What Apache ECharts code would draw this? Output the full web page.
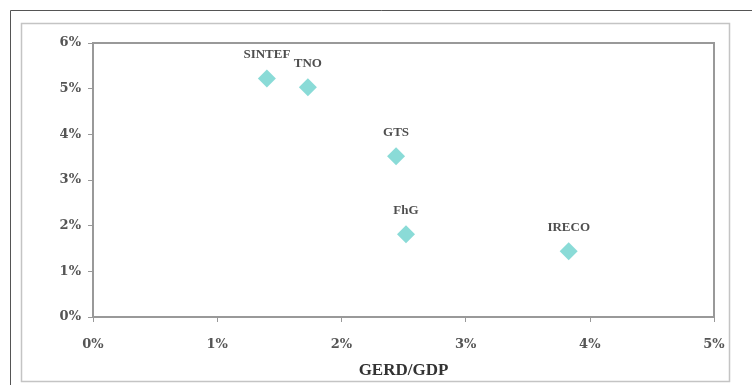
<!DOCTYPE html>
<html><head><meta charset="utf-8">
<script src="https://cdn.jsdelivr.net/npm/echarts@6/dist/echarts.min.js"></script>
<style>html,body{margin:0;padding:0;background:#fff}#c{width:752px;height:385px}</style>
</head><body><div id="c"></div>
<script>
const names = ['SINTEF','TNO','GTS','FhG','IRECO'];
const gerdGdp = [1.40, 1.73, 2.44, 2.52, 3.83];
const yValues = [5.22, 5.03, 3.52, 1.81, 1.44];
const xTicks = [0,1,2,3,4,5];
const yTicks = [0,1,2,3,4,5,6];

const font = 'Liberation Serif';
const tickFont = 'DejaVu Serif';
const chart = echarts.init(document.getElementById('c'), null, {renderer:'canvas'});
chart.setOption({
  animation:false,
  backgroundColor:'#fff',
  graphic:[
    {type:'polyline', silent:true, shape:{points:[[10.5,400],[10.5,10.5],[760,10.5]]}, style:{stroke:'#555',lineWidth:1,fill:null}},
    {type:'rect', silent:true, shape:{x:21.5,y:23.5,width:708,height:358}, style:{stroke:'#c4c4c4',lineWidth:1.5,fill:null}}
  ],
  grid:{left:93,right:38,top:43,bottom:68,outerBoundsMode:'none',containLabel:false,show:true,borderColor:'#999',borderWidth:2,backgroundColor:'transparent'},
  xAxis:{type:'value',min:0,max:5,interval:1,
    name:'GERD/GDP',nameLocation:'middle',nameGap:45,
    nameTextStyle:{fontFamily:font,fontSize:17,color:'#333',fontWeight:'bold'},
    axisLine:{show:true,lineStyle:{color:'#999',width:2}},
    axisTick:{show:true,length:5,lineStyle:{color:'#999',width:1}},
    axisLabel:{margin:21,fontFamily:tickFont,fontSize:13,fontWeight:'bold',color:'#555',formatter:v=>v+'%'},
    splitLine:{show:false}},
  yAxis:{type:'value',min:0,max:6,interval:1,
    axisLine:{show:true,lineStyle:{color:'#999',width:2}},
    axisTick:{show:true,length:5,lineStyle:{color:'#999',width:1}},
    axisLabel:{margin:12,fontFamily:tickFont,fontSize:13,fontWeight:'bold',color:'#555',formatter:v=>v+'%'},
    splitLine:{show:false}},
  series:[{
    type:'scatter',
    symbol:'diamond',
    symbolSize:[18,18],
    itemStyle:{color:'#6dd2cd'},
    data:names.map((n,i)=>({name:n,value:[gerdGdp[i],yValues[i]]})),
    label:{show:true,position:'top',distance:8,formatter:p=>p.name,
      fontFamily:font,fontSize:13,fontWeight:'bold',color:'#222'}
  }]
});
</script></body></html>
